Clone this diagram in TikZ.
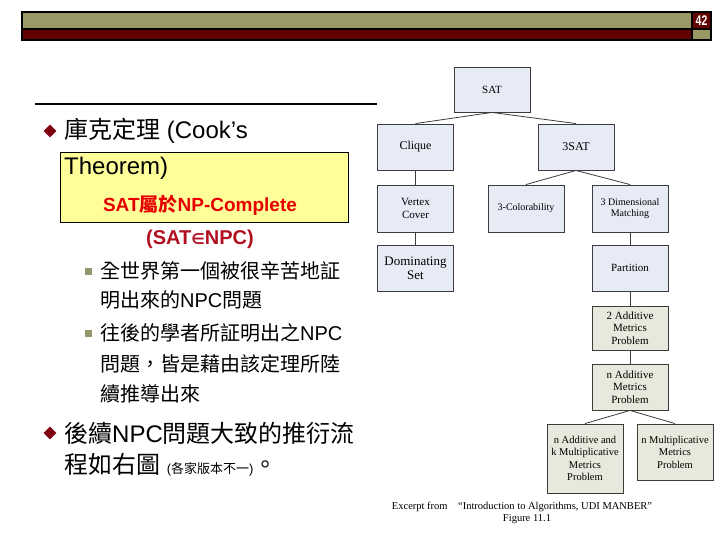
\documentclass[tikz,border=0pt]{standalone}
\usepackage{fontspec}
\setmainfont{Liberation Sans}
\newfontfamily\cjk{Noto Sans CJK TC}
\newfontfamily\tms{Liberation Serif}
\newfontfamily\symf{DejaVu Sans}
\usetikzlibrary{shapes.geometric}

\definecolor{olivebar}{RGB}{153,153,102}
\definecolor{darkbar}{RGB}{96,0,0}
\definecolor{bulletred}{RGB}{128,0,16}
\definecolor{subbullet}{RGB}{150,150,110}
\definecolor{notefill}{RGB}{255,255,153}
\definecolor{blueprob}{RGB}{230,235,246}
\definecolor{greyprob}{RGB}{232,233,220}
\definecolor{probline}{RGB}{60,60,60}
\definecolor{titlered}{RGB}{230,0,0}
\definecolor{npcred}{RGB}{176,16,32}

\begin{document}
\begin{tikzpicture}[
  x=1pt, y=-1pt,
  mainbullet/.style={diamond, fill=bulletred, inner sep=0pt, minimum size=13pt},
  subsq/.style={fill=subbullet, inner sep=0pt, minimum size=7pt},
  bigtext/.style={anchor=west, inner sep=0pt, font=\fontsize{24}{28}\selectfont},
  midtext/.style={anchor=west, inner sep=0pt, font=\fontsize{20}{24}\selectfont},
  prob/.style={draw=probline, line width=0.9pt, minimum width=76pt, align=center, inner sep=1pt, font=\tms\fontsize{11}{12.5}\selectfont},
  probA/.style={prob, fill=blueprob},
  probB/.style={prob, fill=greyprob},
  link/.style={draw=probline, line width=0.8pt}
]
\useasboundingbox (0,0) rectangle (720,540);

% Header bars
\fill[olivebar] (22,12) rectangle (692,29);
\fill[darkbar] (22,29) rectangle (692,40);
\fill[darkbar] (692,12) rectangle (711,29);
\fill[olivebar] (692,29) rectangle (711,40);
\draw[line width=1.5pt] (22,12) rectangle (711,40) (22,29) -- (711,29) (692,12) -- (692,40);
\node[text=white, font=\bfseries\fontsize{14}{14}\selectfont, inner sep=0pt, xscale=0.75] (pageno) at (701.5,21) {42};

% Rule under the title
\draw[line width=1.5pt] (35,104) -- (377,104);

% First bullet and the note box
\node[mainbullet] (b1) at (50,131) {};
\node[bigtext] (cook) at (64,131) {{\cjk 庫克定理} (Cook’s};
\node[draw, fill=notefill, minimum width=288pt, minimum height=70pt, inner sep=0pt] (note) at (204,187) {};
\node[bigtext] (theorem) at (64,168) {Theorem)};
\node[text=titlered, font=\bfseries\fontsize{19}{22}\selectfont] (satnpc) at (200,205) {SAT{\cjk 屬於}NP-Complete};
\node[text=npcred, font=\bfseries\fontsize{20}{22}\selectfont] (satin) at (200,239) {(SAT{\symf\fontsize{15}{16}\selectfont ∈}NPC)};

% Sub-bullets
\foreach \y in {271,333} {
  \node[subsq] at (88,\y) {};
}
\node[midtext] (s1) at (100,271) {\cjk 全世界第一個被很辛苦地証};
\node[midtext] (s2) at (100,300) {{\cjk 明出來的}NPC{\cjk 問題}};
\node[midtext] (s3) at (100,333) {{\cjk 往後的學者所証明出之}NPC};
\node[midtext] (s4) at (100,364) {\cjk 問題，皆是藉由該定理所陸};
\node[midtext] (s5) at (100,394) {\cjk 續推導出來};

% Second bullet
\node[mainbullet] (b2) at (50,433) {};
\node[bigtext] (flow) at (64,433) {{\cjk 後續}NPC{\cjk 問題大致的推衍流}};
\node[bigtext] (flow2) at (64,465) {{\cjk 程如右圖} {\fontsize{13}{15}\selectfont (\cjk 各家版本不一\normalfont)}{\cjk 。}};

% Reduction tree
\node[probA, minimum height=45pt] (sat) at (492,89.5) {SAT};
\node[probA, minimum height=46pt, font=\tms\fontsize{12}{13}\selectfont] (clique) at (415.5,147) {Clique};
\node[probA, minimum height=46pt, font=\tms\fontsize{12}{13}\selectfont] (tsat) at (576,147) {3SAT};
\node[probA, minimum height=47pt] (vc) at (415.5,208.5) {Vertex\\Cover};
\node[probA, minimum height=47pt, font=\tms\fontsize{10}{11.5}\selectfont] (col) at (526,208.5) {3-Colorability};
\node[probA, minimum height=47pt, font=\tms\fontsize{10}{11.5}\selectfont] (tdm) at (630,208.5) {3 Dimensional\\Matching};
\node[probA, minimum height=46pt, font=\tms\fontsize{13}{14}\selectfont] (ds) at (415.5,268) {Dominating\\Set};
\node[probA, minimum height=46pt] (part) at (630,268) {Partition};
\node[probB, minimum height=44pt] (two) at (630,328) {2 Additive\\Metrics\\Problem};
\node[probB, minimum height=46pt] (nadd) at (630,387) {n Additive\\Metrics\\Problem};
\node[probB, minimum height=69pt, font=\tms\fontsize{10.5}{12.5}\selectfont] (nk) at (585,458.5) {n Additive and\\k Multiplicative\\Metrics\\Problem};
\node[probB, minimum height=56pt, font=\tms\fontsize{10.5}{12.5}\selectfont] (nmul) at (675,452) {n Multiplicative\\Metrics\\Problem};

\draw[link] (sat.south) -- (clique.north);
\draw[link] (sat.south) -- (tsat.north);
\draw[link] (clique) -- (vc);
\draw[link] (vc) -- (ds);
\draw[link] (tsat.south) -- (col.north);
\draw[link] (tsat.south) -- (tdm.north);
\draw[link] (tdm) -- (part);
\draw[link] (part) -- (two);
\draw[link] (two) -- (nadd);
\draw[link] (nadd.south) -- (nk.north);
\draw[link] (nadd.south) -- (nmul.north);

% Source
\node[font=\tms\fontsize{10.5}{12}\selectfont, inner sep=0pt] (src) at (522,507) {Excerpt from\quad “Introduction to Algorithms, UDI MANBER”};
\node[font=\tms\fontsize{10.5}{12}\selectfont, inner sep=0pt] (fig) at (527,519) {Figure 11.1};

\end{tikzpicture}
\end{document}
